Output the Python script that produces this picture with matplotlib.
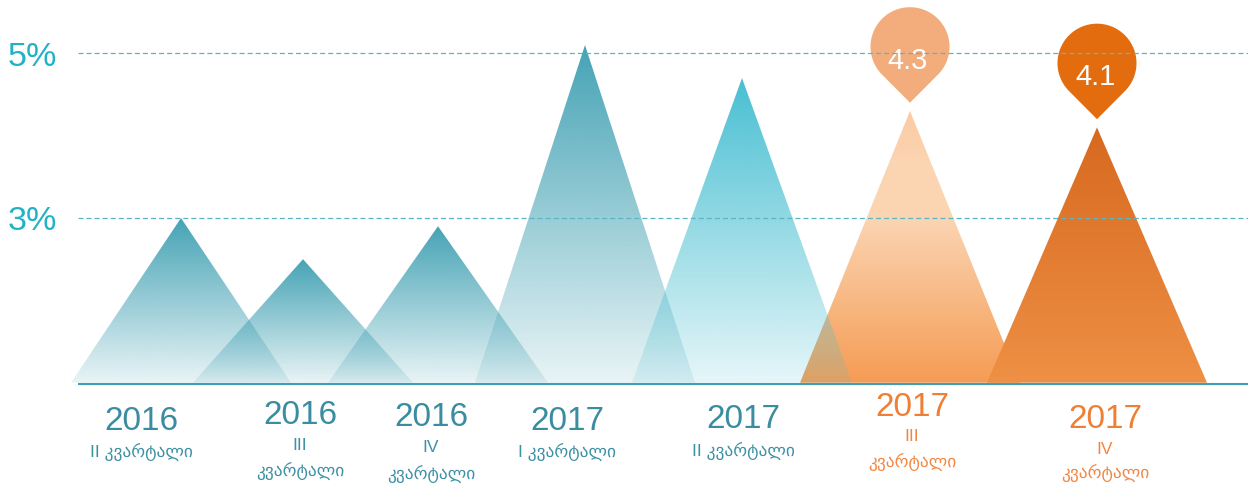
import numpy as np
import matplotlib
matplotlib.use("Agg")
import matplotlib.pyplot as plt
import matplotlib.transforms as mtransforms
from matplotlib.patches import Polygon
from matplotlib.colors import to_rgb

plt.rcParams['font.family'] = ['Liberation Sans', 'DejaVu Sans']
plt.rcParams['lines.scale_dashes'] = False

years = ["2016", "2016", "2016", "2017", "2017", "2017", "2017"]
quarters = ["II", "III", "IV", "I", "II", "III", "IV"]
word = "კვარტალი"
values = [3.0, 2.5, 2.9, 5.1, 4.7, 4.3, 4.1]
callouts = [None, None, None, None, None, "4.3", "4.1"]
yticks = [3, 5]
ytick_labels = ["3%", "5%"]
base = 1.0

# layout, in pixels of the 1248x485 image
W, H = 1248, 485
peak_x = [181, 303, 438, 585, 742, 910, 1097]
half_w = 110
label_x = [141, 300, 431, 567, 743, 912, 1105]
year_y = [422, 416, 418, 422, 420, 408, 420]
quarter_y = [452, 446, 448, 452, 451, 437, 450]
word_y = [None, 471, 474, None, None, 462, 473]   # None -> same line
styles = ["teal", "teal", "teal", "teal", "cyan", "peach", "orange"]
pin_colors = {5: "#f3ad7d", 6: "#e36c0e"}

px_per_pct = 82.35
zero_px = 466.05


def py(ypix):
    # image pixel row -> percent value
    return (zero_px - ypix) / px_per_pct


def ramp(stops, n=256):
    # stops: (pos from bottom 0..1, (r, g, b, a))
    t = np.linspace(0, 1, n)
    pos = [s[0] for s in stops]
    img = np.zeros((n, 1, 4))
    for c in range(4):
        img[:, 0, c] = np.interp(t, pos, [s[1][c] for s in stops])
    return img


def solid_alpha(color, a_bot, a_top):
    r, g, b = to_rgb(color)
    return [(0, (r, g, b, a_bot)), (1, (r, g, b, a_top))]


def rgb(h, a=1.0):
    r, g, b = to_rgb(h)
    return (r, g, b, a)


gradients = {
    "teal": solid_alpha("#45a3b5", 0.12, 1.0),
    "cyan": solid_alpha("#48bfd2", 0.14, 1.0),
    "peach": [(0, rgb("#f59c54")), (0.6, rgb("#fbd4b2")), (0.8, rgb("#fcd5b3")), (1, rgb("#fbcba3"))],
    "orange": [(0, rgb("#ee9045")), (1, rgb("#d7691f"))],
}
zorders = {"teal": 3, "cyan": 3, "peach": 2, "orange": 2.5}

fig = plt.figure(figsize=(W / 100, H / 100), dpi=100)
ax = fig.add_axes([0, 0, 1, 1])
ax.set_axis_off()

for i, v in enumerate(values):
    x = peak_x[i]
    st = styles[i]
    img = ramp(gradients[st])
    im = ax.imshow(img, extent=[x - half_w, x + half_w, base, v], origin='lower',
                   aspect='auto', interpolation='bilinear', zorder=zorders[st])
    tri = Polygon([[x - half_w, base], [x, v], [x + half_w, base]], closed=True,
                  transform=ax.transData, fc='none', ec='none')
    im.set_clip_path(tri)

# callout pins
r = 39.5
d = 56.0
ang = np.radians(np.linspace(-45, 225, 120))
pin_shape = np.vstack([[0, 0], np.column_stack([r * np.cos(ang), d + r * np.sin(ang)])])
for i, lab in enumerate(callouts):
    if lab is None:
        continue
    tip = values[i] + 0.1
    trans = mtransforms.Affine2D() + mtransforms.ScaledTranslation(peak_x[i], tip, ax.transData)
    ax.add_patch(Polygon(pin_shape, closed=True, transform=trans, fc=pin_colors[i],
                         ec='none', zorder=5))
    ax.annotate(lab, xy=(peak_x[i], tip), xytext=(-2, d - 21), textcoords='offset pixels',
                ha='center', va='baseline', color='white', fontsize=21, zorder=6)

# grid + axis line
ax.hlines(yticks, 78, W, colors="#5cb5c3", linewidth=0.9, linestyles=[(0, (3.6, 2.2))], zorder=7)
ax.hlines(base - 0.02, 78, W, colors="#3f9fb4", linewidth=1.5, zorder=7)

for t, lab in zip(yticks, ytick_labels):
    ax.annotate(lab, xy=(8, t), xytext=(0, -3), textcoords='offset pixels',
                ha='left', va='center', fontsize=24.5, color="#22b2c5", zorder=8)

# category labels
for i in range(len(values)):
    warm = styles[i] in ("peach", "orange")
    col = "#ef7f35" if warm else "#3a8ca1"
    subcol = "#f08843" if warm else "#3e90a5"
    xs = label_x[i]
    ax.text(xs, py(year_y[i]), years[i], ha='center', va='center', fontsize=24, color=col)
    if word_y[i] is None:
        ax.text(xs, py(quarter_y[i]), quarters[i] + " " + word, ha='center', va='center',
                fontsize=12.5, color=subcol)
    else:
        ax.text(xs, py(quarter_y[i]), quarters[i], ha='center', va='center',
                fontsize=12.5, color=subcol)
        ax.text(xs, py(word_y[i]), word, ha='center', va='center', fontsize=12.5, color=subcol)

ax.set_xlim(0, W)
ax.set_ylim(py(H), py(0))

fig.savefig("out.png", dpi=100)
